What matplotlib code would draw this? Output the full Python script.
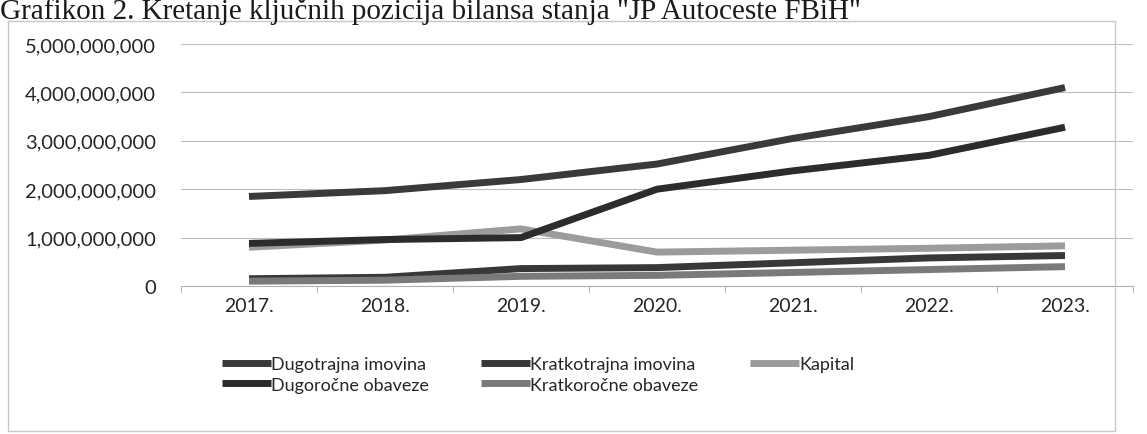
import numpy as np
import matplotlib
matplotlib.use("Agg")
from matplotlib import pyplot as plt
from matplotlib.patches import Rectangle
from matplotlib.ticker import FuncFormatter, FixedLocator

# godine i serije (vrijednosti u KM, ocitano sa slike)
godine = ['2017.', '2018.', '2019.', '2020.', '2021.', '2022.', '2023.']
dugotrajna_imovina = [1.85e9, 1.97e9, 2.20e9, 2.52e9, 3.05e9, 3.50e9, 4.10e9]
kratkotrajna_imovina = [0.15e9, 0.18e9, 0.36e9, 0.38e9, 0.48e9, 0.58e9, 0.63e9]
kapital = [0.80e9, 0.95e9, 1.18e9, 0.70e9, 0.74e9, 0.78e9, 0.83e9]
dugorocne_obaveze = [0.88e9, 0.96e9, 1.00e9, 2.00e9, 2.38e9, 2.70e9, 3.28e9]
kratkorocne_obaveze = [0.10e9, 0.12e9, 0.20e9, 0.22e9, 0.28e9, 0.34e9, 0.40e9]

naslov = 'Grafikon 2. Kretanje ključnih pozicija bilansa stanja "JP Autoceste FBiH"'

plt.rcParams['font.family'] = ['Lato', 'DejaVu Sans']

fig = plt.figure(figsize=(11.47, 4.35), dpi=100)
ax = fig.add_axes([181/1147, 1 - 287/435, (1133-181)/1147, (287-45)/435])

# okvir grafikona
fig.patches.append(Rectangle((8/1147, 1 - 432/435), (1115-8)/1147, (432-22)/435,
                             transform=fig.transFigure, fill=False,
                             edgecolor='#c8c8c8', lw=1.0))

x = np.arange(len(godine))
serije = [
    ('Dugotrajna imovina', dugotrajna_imovina, '#3a3a3a'),
    ('Kratkotrajna imovina', kratkotrajna_imovina, '#383838'),
    ('Kapital', kapital, '#9c9c9c'),
    ('Dugoročne obaveze', dugorocne_obaveze, '#2c2c2c'),
    ('Kratkoročne obaveze', kratkorocne_obaveze, '#7a7a7a'),
]
linije = []
for ime, vrijednosti, boja in serije:
    l, = ax.plot(x, vrijednosti, color=boja, lw=5, label=ime,
                 solid_capstyle='butt', solid_joinstyle='round')
    linije.append(l)

ax.set_xlim(-0.5, len(godine) - 0.5)
ax.set_ylim(0, 5e9)
ax.set_yticks(np.arange(0, 5.01e9, 1e9))
ax.yaxis.set_major_formatter(FuncFormatter(lambda v, p: f'{int(v):,}'))
ax.set_xticks(x)
ax.set_xticklabels(godine)
ax.xaxis.set_minor_locator(FixedLocator(np.arange(-0.5, len(godine), 1)))

ax.grid(axis='y', color='#bdbdbd', lw=0.8)
ax.set_axisbelow(True)
for s in ['top', 'right', 'left']:
    ax.spines[s].set_visible(False)
ax.spines['bottom'].set_color('#b0b0b0')
ax.tick_params(axis='y', length=0, labelsize=14.5, labelcolor='#262626', pad=18)
ax.tick_params(axis='x', which='major', length=0, labelsize=14,
               labelcolor='#262626', pad=8)
ax.tick_params(axis='x', which='minor', length=5, color='#b0b0b0')

# legenda ide po redovima kao u Excelu
red = [0, 3, 1, 4, 2]
ax.legend([linije[i] for i in red], [serije[i][0] for i in red],
          loc='upper left', bbox_to_anchor=(215/1147, 1 - 350/435),
          bbox_transform=fig.transFigure, ncol=3, frameon=False,
          fontsize=13, handlelength=2.7, handletextpad=0.0,
          columnspacing=2.9, labelspacing=0.25, borderaxespad=0,
          labelcolor='#262626')

fig.text(0, 1 - 19/435, naslov, family='Liberation Serif', fontsize=21,
         va='baseline', ha='left', color='#1a1a1a')

fig.savefig('out.png', dpi=100)
